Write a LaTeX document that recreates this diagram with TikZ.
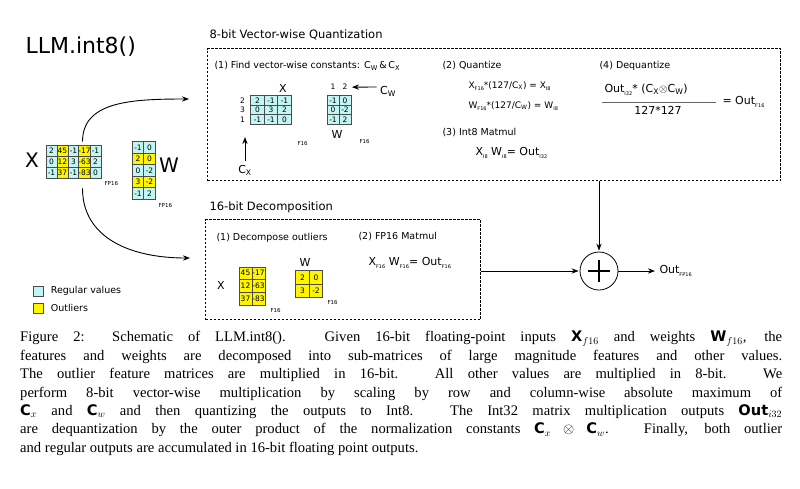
\documentclass[tikz,border=0pt]{standalone}
\usepackage{fontspec}
\setmainfont{DejaVu Sans}
\newfontfamily\capfont{Liberation Serif}
\usetikzlibrary{arrows.meta,positioning,calc}
\definecolor{regcol}{RGB}{195,245,245}
\definecolor{outcol}{RGB}{255,245,0}
\newcommand{\lowlab}[1]{\raisebox{-0.5ex}{\fontsize{5}{5}\selectfont #1}}
\newcommand{\fs}[1]{\fontsize{#1}{#1}\selectfont}
\tikzset{
  >=Stealth,
  arr/.style={->,line width=0.9pt,shorten >=1pt},
  cell/.style={draw=black!70,line width=0.6pt,inner sep=0pt,font=\fs{7.5}},
  dbox/.style={draw,dashed,line width=1.1pt,dash pattern=on 2.5pt off 1.5pt,inner sep=0pt},
  head/.style={anchor=west,font=\fs{11.5}},
  stepnote/.style={anchor=west,font=\fs{9.5}},
  eq/.style={anchor=west,font=\fs{10}},
  tag/.style={anchor=west,font=\fs{5.5}}
}
\begin{document}
\begin{tikzpicture}[x=1pt,y=-1pt]
  \useasboundingbox (0,0) rectangle (800,488);

  % Title
  \node[anchor=west,font=\fs{22}] (title) at (22,47) {LLM.int8()};

  % Input matrices
  \node[font=\fs{20}] (xlab) at (32,160) {X};
  \foreach \row [count=\r] in {{2,45,-1,-17,-1},{0,12,3,-63,2},{-1,37,-1,-83,0}}{
    \foreach \v [count=\c] in \row {
      \ifodd\c \def\fc{regcol}\else \def\fc{outcol}\fi
      \node[cell,fill=\fc,minimum width=11pt,minimum height=11pt] (x-\r-\c)
        at (40.5+11*\c,139.5+11*\r) {\v};
    }
  }
  \node[tag] (xtag) at (101,183) {FP16};
  \foreach \row [count=\r] in {{-1,0},{2,0},{0,-2},{3,-2},{-1,2}}{
    \foreach \v [count=\c] in \row {
      \ifodd\r \def\fc{regcol}\else \def\fc{outcol}\fi
      \node[cell,fill=\fc,minimum width=11.5pt,minimum height=11.5pt] (w-\r-\c)
        at (126.5+11.5*\c,136+11.5*\r) {\v};
    }
  }
  \node[font=\fs{20}] (wlab) at (169,165) {W};
  \node[tag] (wtag) at (155,205) {FP16};

  % Legend
  \node[cell,fill=regcol,minimum size=10pt] (lreg) at (38,291) {};
  \node[cell,fill=outcol,minimum size=10pt] (lout) at (38,308) {};
  \node[stepnote,right=4pt of lreg] {Regular values};
  \node[stepnote,right=4pt of lout] {Outliers};

  % 8-bit box
  \node[head] at (206,35) {8-bit Vector-wise Quantization};
  \node[dbox,anchor=north west,minimum width=573pt,minimum height=132pt] (qbox) at (207,48) {};
  \node[stepnote] at (211,66) {(1) Find vector-wise constants: C\textsubscript{W}\,\&\,C\textsubscript{X}};
  \node[font=\fs{11}] (qxlab) at (283,88) {X};
  \foreach \row [count=\r] in {{2,-1,-1},{0,3,2},{-1,-1,0}}{
    \foreach \v [count=\c] in \row {
      \node[cell,fill=regcol,minimum width=13.5pt,minimum height=9.5pt] (qx-\r-\c)
        at (244+13.5*\c,91+9.5*\r) {\v};
    }
  }
  \foreach \v [count=\r] in {2,3,1}{
    \node[font=\fs{7.5},left=2pt of qx-\r-1] {\v};
  }
  \node[tag] at (294,143) {F16};
  \node[font=\fs{11}] (cx) at (245,170) {C\textsubscript{X}};
  \draw[arr] (cx) -- (245,136);
  \foreach \row [count=\r] in {{-1,0},{0,-2},{-1,2}}{
    \foreach \v [count=\c] in \row {
      \node[cell,fill=regcol,minimum width=12pt,minimum height=9.5pt] (qw-\r-\c)
        at (321+12*\c,91+9.5*\r) {\v};
    }
  }
  \node[font=\fs{7.5},above=2pt of qw-1-1] {1};
  \node[font=\fs{7.5},above=2pt of qw-1-2] (cwtop) {2};
  \node[font=\fs{11}] (cw) at (388,91) {C\textsubscript{W}};
  \draw[arr] (cw.west) ++(0,-4) -- (cwtop.east);
  \node[font=\fs{11}] at (337,134) {W};
  \node[tag] at (356,141) {F16};

  \node[stepnote] at (439,66) {(2) Quantize};
  \node[eq,font=\fs{9}] at (465,86) {X\lowlab{F16}*(127/C\textsubscript{X}) = X\lowlab{I8}};
  \node[eq,font=\fs{9}] at (465,106) {W\lowlab{F16}*(127/C\textsubscript{W}) = W\lowlab{I8}};
  \node[stepnote] at (439,133) {(3) Int8 Matmul};
  \node[eq,font=\fs{11}] at (472,153) {X\lowlab{I8} W\lowlab{I8}= Out\lowlab{I32}};

  \node[stepnote] at (596,66) {(4) Dequantize};
  \node[eq,font=\fs{11}] (num) at (601,90) {Out\lowlab{I32}* (C\textsubscript{X}$\otimes$C\textsubscript{W})};
  \draw[line width=1pt,black!60] (602,102) -- (716,102);
  \node[font=\fs{11}] (den) at (658,110) {127*127};
  \node[eq,font=\fs{11}] at (719,102) {= Out\lowlab{F16}};

  % 16-bit box
  \node[head] at (206,207) {16-bit Decomposition};
  \node[dbox,anchor=north west,minimum width=275pt,minimum height=100pt] (dbox) at (205,219) {};
  \node[stepnote] at (213,238) {(1) Decompose outliers};
  \node[font=\fs{11}] at (221,285) {X};
  \foreach \row [count=\r] in {{45,-17},{12,-63},{37,-83}}{
    \foreach \v [count=\c] in \row {
      \node[cell,fill=outcol,minimum width=13pt,minimum height=12.7pt] (dx-\r-\c)
        at (232.5+13*\c,260.5+12.7*\r) {\v};
    }
  }
  \node[tag] at (267,310) {F16};
  \node[font=\fs{11}] at (305,262) {W};
  \foreach \row [count=\r] in {{2,0},{3,-2}}{
    \foreach \v [count=\c] in \row {
      \node[cell,fill=outcol,minimum width=13.5pt,minimum height=13.5pt] (dw-\r-\c)
        at (289+13.5*\c,264+13.5*\r) {\v};
    }
  }
  \node[tag] at (324,302) {F16};
  \node[stepnote] at (355,237) {(2) FP16 Matmul};
  \node[eq,font=\fs{11}] at (365,263) {X\lowlab{F16}\,\,W\lowlab{F16}= Out\lowlab{F16}};

  % Accumulation
  \node[draw,circle,line width=0.8pt,minimum size=38pt] (plus) at (599,271) {};
  \draw[line width=1.8pt] ($(plus)+(-11,0)$) -- ($(plus)+(11,0)$)
    ($(plus)+(0,-11)$) -- ($(plus)+(0,11)$);
  \node[anchor=west,font=\fs{11}] (out) at (656,271) {Out\lowlab{FP16}};
  \draw[arr] (dbox.east |- plus) -- (plus);
  \draw[arr] (qbox.south -| plus) -- (plus);
  \draw[arr] (plus) -- (out);

  % Split arrows
  \coordinate (qin) at (190,99);
  \coordinate (din) at (191,258);
  \draw[arr] (x-1-4.north) ++(-2,-3) .. controls +(0,-40) and +(-60,0) .. (qin);
  \draw[arr] (x-3-4.south) ++(-2,10) .. controls +(0,50) and +(-60,0) .. (din);

  % Caption
  \node[anchor=north west,text width=762pt,align=justify,inner sep=0pt,
    font=\capfont\fontsize{14.6}{18.4}\selectfont] (cap) at (20,331) {%
    Figure 2: Schematic of LLM.int8(). Given 16-bit floating-point inputs $\mathbf{X}_{f16}$ and weights $\mathbf{W}_{f16}$, the\linebreak
    features and weights are decomposed into sub-matrices of large magnitude features and other values.\linebreak
    The outlier feature matrices are multiplied in 16-bit. All other values are multiplied in 8-bit. We\linebreak
    perform 8-bit vector-wise multiplication by scaling by row and column-wise absolute maximum of\linebreak
    $\mathbf{C}_x$ and $\mathbf{C}_w$ and then quantizing the outputs to Int8. The Int32 matrix multiplication outputs $\mathbf{Out}_{i32}$\linebreak
    are dequantization by the outer product of the normalization constants $\mathbf{C}_x \otimes \mathbf{C}_w$. Finally, both outlier\linebreak
    and regular outputs are accumulated in 16-bit floating point outputs.};
\end{tikzpicture}
\end{document}
